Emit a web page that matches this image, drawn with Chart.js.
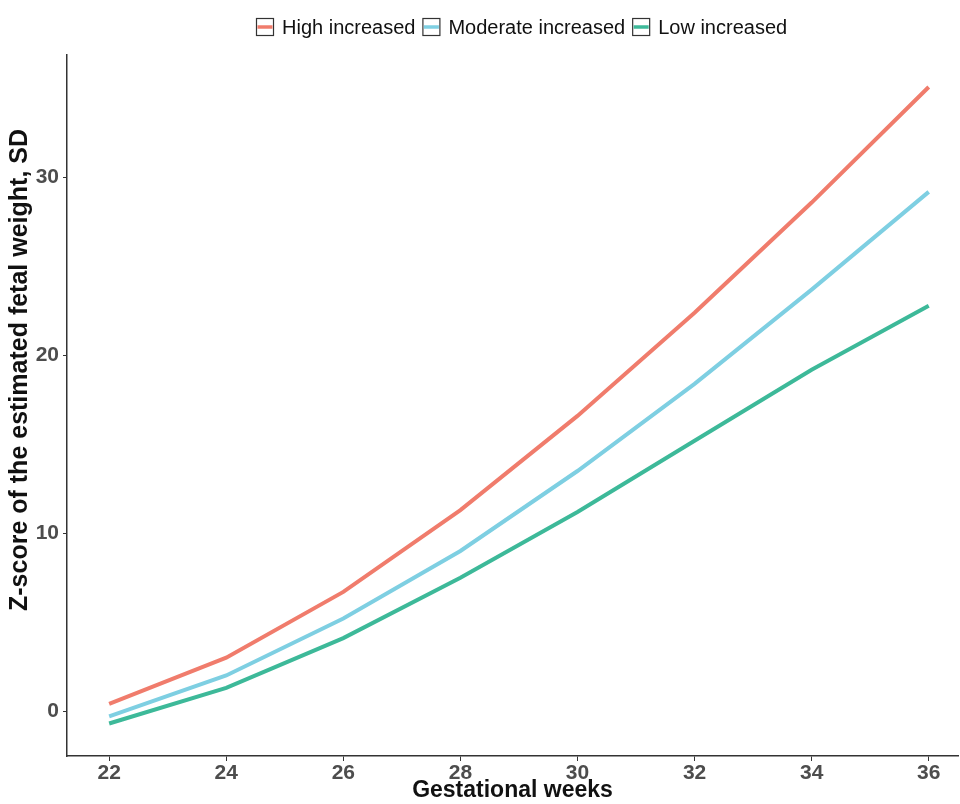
<!DOCTYPE html>
<html>
<head>
<meta charset="utf-8">
<script src="https://cdn.jsdelivr.net/npm/chart.js@4"></script>
<style>
  html, body { margin: 0; padding: 0; background: #fff; }
  #wrap { width: 960px; height: 804px; }
</style>
</head>
<body>
<div id="wrap"><canvas id="chart"></canvas></div>
<script>
// values
const weeks = [22, 24, 26, 28, 30, 32, 34, 36];
const highIncreased = [0.4, 3.0, 6.7, 11.3, 16.6, 22.4, 28.6, 35.1];
const moderateIncreased = [-0.3, 2.0, 5.2, 9.0, 13.5, 18.4, 23.7, 29.2];
const lowIncreased = [-0.7, 1.3, 4.1, 7.5, 11.2, 15.2, 19.2, 22.8];
const seriesNames = ['High increased', 'Moderate increased', 'Low increased'];
const xTicks = [22, 24, 26, 28, 30, 32, 34, 36];
const yTicks = [0, 10, 20, 30];
const yTitle = 'Z-score of the estimated fetal weight, SD';

const colors = ['#f07c6c', '#7ecfe2', '#3db999'];
const axisGrey = '#4d4d4d';
const fontFamily = 'Liberation Sans, Arial, sans-serif';

const allSeries = [highIncreased, moderateIncreased, lowIncreased];

const datasets = allSeries.map((vals, i) => ({
    label: seriesNames[i],
    data: weeks.map((w, j) => ({ x: w, y: vals[j] })),
    borderColor: colors[i],
    backgroundColor: colors[i],
    borderWidth: 4,
    pointRadius: 0,
    tension: 0,
}));

// ggplot style legend: boxed keys with a line through them, drawn above the plot
// plus the rotated y title, which sits a bit above the panel centre
const extras = {
    id: 'extras',
    afterDraw(chart) {
        const ctx = chart.ctx;
        ctx.save();
        ctx.font = '20px ' + fontFamily;
        ctx.textBaseline = 'middle';
        let x = 256;
        const cy = 27;
        chart.data.datasets.forEach((ds) => {
            ctx.fillStyle = '#fff';
            ctx.fillRect(x, cy - 9, 18, 18);
            ctx.strokeStyle = '#333';
            ctx.lineWidth = 1.2;
            ctx.strokeRect(x + 0.5, cy - 8.5, 17, 17);
            ctx.strokeStyle = ds.borderColor;
            ctx.lineWidth = 3.5;
            ctx.beginPath();
            ctx.moveTo(x + 1.5, cy);
            ctx.lineTo(x + 16.5, cy);
            ctx.stroke();
            ctx.fillStyle = '#111';
            ctx.fillText(ds.label, x + 26, cy + 1);
            x += 26 + ctx.measureText(ds.label).width + 7;
        });

        ctx.translate(20, 370);
        ctx.rotate(-Math.PI / 2);
        ctx.font = 'bold 25px ' + fontFamily;
        ctx.textAlign = 'center';
        ctx.fillStyle = '#111';
        ctx.fillText(yTitle, 0, 0);
        ctx.restore();
    },
};

new Chart(document.getElementById('chart'), {
    type: 'line',
    data: { datasets: datasets },
    plugins: [extras],
    options: {
        responsive: true,
        maintainAspectRatio: false,
        animation: false,
        layout: { padding: { top: 55, right: 2, left: 0, bottom: 0 } },
        plugins: {
            tooltip: { enabled: false },
            legend: { display: false },
        },
        scales: {
            x: {
                type: 'linear',
                min: 21.28,
                max: 36.5,
                afterBuildTicks: (scale) => {
                    scale.ticks = xTicks.map((v) => ({ value: v }));
                },
                afterFit: (scale) => { scale.height = 48; },
                border: { display: true, color: '#333', width: 1.5 },
                grid: { drawOnChartArea: false, drawTicks: true, tickLength: 5, color: '#333' },
                ticks: {
                    color: axisGrey,
                    padding: 0,
                    font: { family: fontFamily, size: 21, weight: 'bold' },
                },
                title: {
                    display: true,
                    text: 'Gestational weeks',
                    color: '#111',
                    padding: { top: 0, bottom: 0 },
                    font: { family: fontFamily, size: 23, weight: 'bold' },
                },
            },
            y: {
                type: 'linear',
                min: -2.53,
                max: 36.9,
                afterBuildTicks: (scale) => {
                    scale.ticks = yTicks.map((v) => ({ value: v }));
                },
                afterFit: (scale) => { scale.width = 67; },
                border: { display: true, color: '#333', width: 1.5 },
                grid: { drawOnChartArea: false, drawTicks: true, tickLength: 4, color: '#333' },
                ticks: {
                    color: axisGrey,
                    padding: 4,
                    font: { family: fontFamily, size: 21, weight: 'bold' },
                },
            },
        },
    },
});
</script>
</body>
</html>
